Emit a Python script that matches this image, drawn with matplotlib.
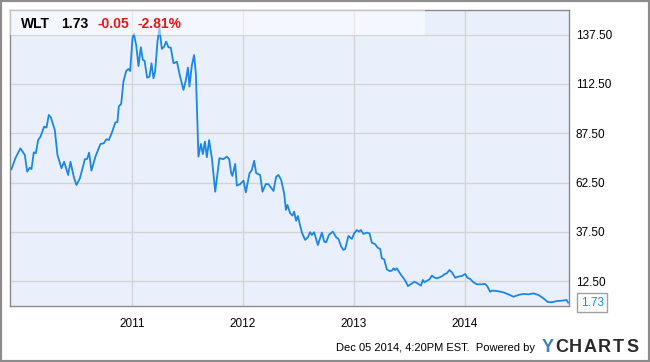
import matplotlib.pyplot as plt
from matplotlib.patches import Rectangle

plt.rcParams['font.family'] = ['Liberation Sans', 'DejaVu Sans']

# WLT weekly-ish closes (decimal year, price)
dates = [2009.914, 2009.950, 2009.995, 2010.035, 2010.056, 2010.080, 2010.095, 2010.116,
         2010.134, 2010.155, 2010.176, 2010.209, 2010.230, 2010.251, 2010.269, 2010.305,
         2010.329, 2010.365, 2010.389, 2010.425, 2010.446, 2010.477, 2010.500, 2010.531,
         2010.576, 2010.596, 2010.614, 2010.635, 2010.671, 2010.716, 2010.747, 2010.770,
         2010.792, 2010.822, 2010.851, 2010.869, 2010.882, 2010.903, 2010.923, 2010.948,
         2010.968, 2010.984, 2011.005, 2011.017, 2011.038, 2011.059, 2011.080, 2011.098,
         2011.113, 2011.137, 2011.158, 2011.176, 2011.194, 2011.209, 2011.230, 2011.248,
         2011.269, 2011.290, 2011.308, 2011.329, 2011.350, 2011.374, 2011.405, 2011.434,
         2011.464, 2011.486, 2011.504, 2011.518, 2011.540, 2011.560, 2011.576, 2011.599,
         2011.621, 2011.639, 2011.657, 2011.675, 2011.695, 2011.720, 2011.750, 2011.788,
         2011.824, 2011.855, 2011.876, 2011.894, 2011.905, 2011.930, 2011.945, 2011.975,
         2012.005, 2012.026, 2012.059, 2012.080, 2012.101, 2012.119, 2012.155, 2012.176,
         2012.206, 2012.230, 2012.275, 2012.299, 2012.320, 2012.344, 2012.371, 2012.387,
         2012.401, 2012.425, 2012.446, 2012.461, 2012.479, 2012.495, 2012.509, 2012.531,
         2012.560, 2012.585, 2012.605, 2012.621, 2012.641, 2012.675, 2012.711, 2012.732,
         2012.750, 2012.774, 2012.810, 2012.840, 2012.860, 2012.885, 2012.905, 2012.921,
         2012.950, 2012.981, 2013.002, 2013.026, 2013.047, 2013.062, 2013.086, 2013.116,
         2013.140, 2013.161, 2013.191, 2013.215, 2013.236, 2013.251, 2013.272, 2013.296,
         2013.320, 2013.341, 2013.356, 2013.371, 2013.386, 2013.401, 2013.425, 2013.452,
         2013.470, 2013.486, 2013.515, 2013.545, 2013.572, 2013.603, 2013.621, 2013.635,
         2013.657, 2013.680, 2013.702, 2013.723, 2013.747, 2013.770, 2013.797, 2013.815,
         2013.837, 2013.860, 2013.882, 2013.912, 2013.941, 2013.972, 2014.002, 2014.023,
         2014.047, 2014.077, 2014.107, 2014.152, 2014.182, 2014.203, 2014.227, 2014.242,
         2014.287, 2014.347, 2014.392, 2014.437, 2014.482, 2014.527, 2014.572, 2014.617,
         2014.662, 2014.707, 2014.747, 2014.783, 2014.828, 2014.873, 2014.915, 2014.930]
prices = [69.3, 74.9, 79.9, 76.5, 68.1, 70.1, 69.4, 77.9,
          77.4, 84.1, 85.8, 90.9, 90.4, 96.8, 95.6, 89.2,
          76.5, 69.8, 73.1, 66.4, 73.1, 65.2, 61.3, 64.7,
          74.4, 74.5, 77.7, 68.6, 75.7, 82.1, 82.5, 84.5,
          84.1, 88.3, 93.1, 93.1, 101.2, 102.4, 113.7, 119.1,
          120.1, 119.1, 135.7, 137.9, 132.3, 121.6, 131.1, 124.7,
          124.3, 115.7, 116.2, 123.0, 115.4, 118.8, 134.0, 140.7,
          130.3, 131.4, 134.0, 131.1, 130.9, 123.0, 123.8, 116.2,
          109.5, 114.5, 120.8, 111.2, 122.1, 127.2, 117.6, 75.7,
          82.1, 77.0, 83.3, 75.4, 84.1, 74.9, 57.9, 74.9,
          74.4, 75.7, 74.4, 67.3, 65.9, 72.0, 61.0, 61.8,
          63.5, 57.6, 67.3, 68.9, 73.6, 67.3, 66.4, 57.9,
          61.8, 61.7, 58.3, 65.5, 66.4, 63.9, 57.1, 48.7,
          51.2, 47.0, 45.8, 47.8, 43.2, 45.6, 42.2, 37.2,
          33.5, 34.8, 37.4, 36.0, 37.4, 30.9, 37.2, 32.6,
          32.3, 36.0, 37.7, 34.8, 34.0, 30.1, 28.4, 28.9,
          35.5, 34.0, 36.8, 38.5, 37.7, 38.5, 36.5, 37.2,
          36.8, 32.1, 31.3, 29.5, 28.9, 24.2, 23.7, 18.6,
          17.7, 17.9, 19.1, 18.2, 19.1, 17.7, 15.7, 13.7,
          12.0, 10.1, 11.2, 12.3, 11.5, 10.3, 13.2, 12.0,
          12.8, 13.5, 15.4, 14.5, 14.0, 14.5, 15.2, 16.1,
          16.6, 18.2, 17.1, 14.3, 14.9, 15.2, 16.2, 14.3,
          13.7, 12.0, 11.0, 11.0, 11.2, 9.8, 7.2, 7.8,
          7.6, 6.9, 5.9, 4.7, 5.6, 6.1, 5.9, 6.4,
          5.6, 3.9, 2.0, 1.9, 2.5, 2.7, 3.0, 1.73]

years = [2011, 2012, 2013, 2014]
yticks = [12.5, 37.5, 62.5, 87.5, 112.5, 137.5]
ticker, last, change, pct = 'WLT', '1.73', '-0.05', '-2.81%'

fig = plt.figure(figsize=(6.5, 3.62), dpi=100)
ax = fig.add_axes([0.016, 0.1547, 0.859, 0.8177])
ax.set_facecolor('#eaf0fb')

ax.plot(dates, prices, color='#1a87e6', lw=1.3, zorder=3)

ax.set_xlim(2009.905, 2014.935)
ax.set_ylim(0, 150)
ax.yaxis.tick_right()
ax.set_yticks(yticks)
ax.set_yticklabels([f'{v:.2f}' for v in yticks])
ax.set_xticks(years)
ax.set_xticklabels([str(y) for y in years])
ax.tick_params(axis='y', length=0, labelsize=8.5, pad=5)
ax.tick_params(axis='x', length=0, labelsize=8.5, pad=9)
ax.grid(color='#d4d4d4', lw=1)
ax.set_axisbelow(True)
for s in ax.spines.values():
    s.set_color('#8a8a8a')
    s.set_linewidth(1)

# light header band over the top of the plot
ax.add_patch(Rectangle((0, 137.5 / 150), 0.743, 1 - 137.5 / 150, transform=ax.transAxes,
                       fc='white', alpha=0.5, ec='none', zorder=4))

# header text
fig.text(21 / 650, 1 - 24 / 362, ticker, fontsize=10, fontweight='bold', va='center')
fig.text(61 / 650, 1 - 24 / 362, last, fontsize=10, fontweight='bold', va='center')
fig.text(97.5 / 650, 1 - 24 / 362, change, fontsize=10, fontweight='bold', va='center', color='#f01414')
fig.text(138 / 650, 1 - 24 / 362, pct, fontsize=10, fontweight='bold', va='center', color='#f01414')

# last value tag
ax.annotate(f'{prices[-1]:.2f}', xy=(dates[-1], prices[-1]), xytext=(9, 0),
            textcoords='offset points', va='center', ha='left', fontsize=8.5,
            color='#1a87e6', annotation_clip=False,
            bbox=dict(boxstyle='square,pad=0.3', fc='white', ec='#a0a0a0', lw=1))

# footer
fig.text(535 / 650, 1 - 348 / 362, 'Dec 05 2014, 4:20PM EST.  Powered by', fontsize=8,
         ha='right', va='center')
logo = 'YCHARTS'
for i, ch in enumerate(logo):
    fig.text((547.5 + i * 14.1) / 650, 1 - 348 / 362, ch, fontsize=13, fontweight='bold',
             color='#3f7fc4' if i == 0 else '#2a2a2a', ha='center', va='center')

fig.patches.append(Rectangle((0, 0), 1, 1, transform=fig.transFigure, fill=False,
                             ec='#8c8c8c', lw=3))

fig.savefig('out.png', dpi=100)
